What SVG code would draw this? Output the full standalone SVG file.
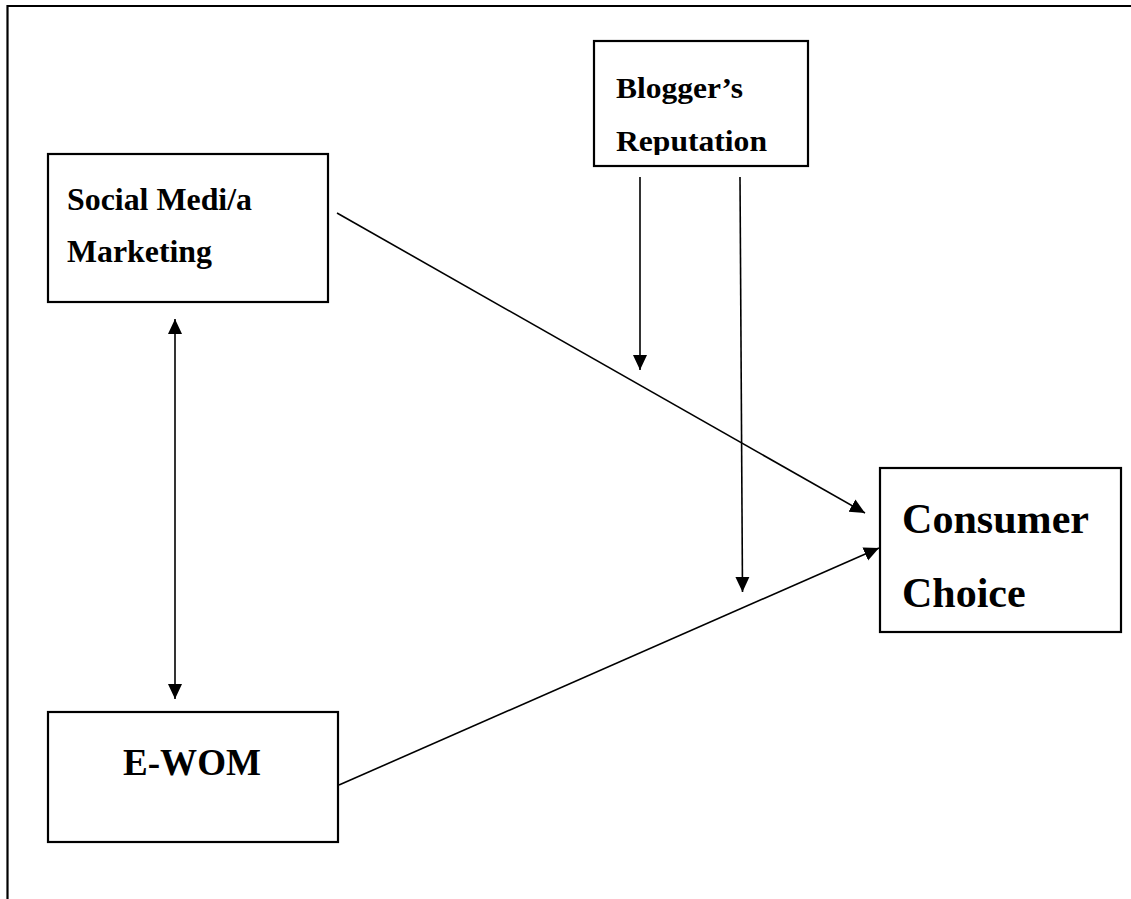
<svg xmlns="http://www.w3.org/2000/svg" width="1131" height="899" viewBox="0 0 1131 899">
<style>
.box{fill:#fff;stroke:#000;stroke-width:2.2}
.t{font-family:"Liberation Serif","Times New Roman",serif;font-weight:bold;fill:#000}
.c{stroke:#000;stroke-width:1.6;fill:none}
.frame{stroke:#000;stroke-width:2.2;fill:none}
</style>
<defs>
<marker id="ah" markerUnits="userSpaceOnUse" markerWidth="16" markerHeight="16" viewBox="0 0 16 16" refX="15" refY="8" orient="auto-start-reverse">
<path d="M0,1 L15,8 L0,15 Z" fill="#000"/>
</marker>
<clipPath id="clipB"><rect x="594" y="41" width="214" height="114"/></clipPath>
</defs>
<rect width="1131" height="899" fill="#fff"/>
<path class="frame" d="M7.5,899 V6 H1131"/>
<g id="social">
<rect class="box" x="48" y="154" width="280" height="148"/>
<text class="t" x="67" y="210" font-size="31" textLength="185" lengthAdjust="spacingAndGlyphs">Social Medi/a</text>
<text class="t" x="67" y="262" font-size="31" textLength="145" lengthAdjust="spacingAndGlyphs">Marketing</text>
</g>
<g id="blogger">
<rect class="box" x="594" y="41" width="214" height="125"/>
<g clip-path="url(#clipB)">
<text class="t" x="616" y="98" font-size="30" textLength="127" lengthAdjust="spacingAndGlyphs">Blogger’s</text>
<text class="t" x="616" y="151" font-size="30" textLength="151" lengthAdjust="spacingAndGlyphs">Reputation</text>
</g>
</g>
<g id="consumer">
<rect class="box" x="880" y="468" width="241" height="164"/>
<text class="t" x="902" y="533" font-size="42" textLength="187" lengthAdjust="spacingAndGlyphs">Consumer</text>
<text class="t" x="902" y="607" font-size="42">Choice</text>
</g>
<g id="ewom">
<rect class="box" x="48" y="712" width="290" height="130"/>
<text class="t" x="123" y="775" font-size="37" textLength="138" lengthAdjust="spacingAndGlyphs">E-WOM</text>
</g>
<g id="connectors">
<line class="c" x1="175" y1="319" x2="175" y2="699" marker-start="url(#ah)" marker-end="url(#ah)"/>
<line class="c" x1="640" y1="177" x2="640" y2="370" marker-end="url(#ah)"/>
<line class="c" x1="740" y1="177" x2="742.5" y2="592" marker-end="url(#ah)"/>
<line class="c" x1="337" y1="213" x2="865" y2="513" marker-end="url(#ah)"/>
<line class="c" x1="339" y1="785" x2="879" y2="548" marker-end="url(#ah)"/>
</g>
</svg>
